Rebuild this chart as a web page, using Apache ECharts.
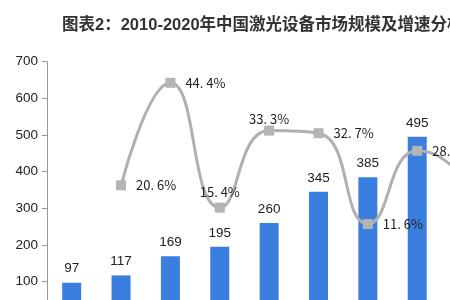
<!DOCTYPE html>
<html><head><meta charset="utf-8">
<script src="https://cdn.jsdelivr.net/npm/echarts@6/dist/echarts.min.js"></script>
<style>html,body{margin:0;padding:0;background:#fff}#c{width:450px;height:300px}</style>
</head><body><div id="c"></div>
<script>
var titleText = '图表2：2010-2020年中国激光设备市场规模及增速分析';
var years = ['2010','2011','2012','2013','2014','2015','2016','2017','2018','2019','2020'];
var marketSize = [97, 117, 169, 195, 260, 345, 385, 495, 605, 658, 692];
var growthRate = ['-', 20.6, 44.4, 15.4, 33.3, 32.7, 11.6, 28.6, 22.2, 8.8, 5.2];
var yTicks = [0, 100, 200, 300, 400, 500, 600, 700];

var labelPos = {3: ['top', 4], 4: ['top', 0]};
var lineData = growthRate.map(function (v, i) {
  var o = {value: v};
  if (labelPos[i]) o.label = {position: labelPos[i][0], distance: labelPos[i][1]};
  return o;
});

var chart = echarts.init(document.getElementById('c'), null, {renderer: 'canvas'});
chart.setOption({
  animation: false,
  backgroundColor: '#fff',
  title: {
    text: titleText, left: 57, top: 12,
    textStyle: {fontFamily: '"Liberation Sans", "Noto Sans CJK SC"', fontWeight: 'bold', fontSize: 16.5, color: '#333'}
  },
  grid: {left: 47, top: 61.7, width: 543, height: 256.6, containLabel: false, outerBoundsMode: 'none'},
  xAxis: {
    type: 'category', data: years,
    axisLine: {lineStyle: {color: '#999'}}, axisTick: {show: false},
    axisLabel: {show: false}
  },
  yAxis: [{
    type: 'value', min: yTicks[0], max: yTicks[yTicks.length - 1], interval: 100,
    axisLine: {show: true, lineStyle: {color: '#999'}},
    axisTick: {show: true, length: 5, lineStyle: {color: '#999'}},
    splitLine: {show: false},
    axisLabel: {fontFamily: 'Liberation Sans', fontSize: 13.5, color: '#222', margin: 9}
  }, {
    type: 'value', min: -10.3, max: 49.3, show: false, splitLine: {show: false}
  }],
  series: [{
    type: 'bar', data: marketSize, barWidth: 19,
    itemStyle: {color: '#3a7fdf'},
    label: {show: true, position: 'top', distance: 7, fontFamily: 'Liberation Sans', fontSize: 13.5, color: '#222'}
  }, {
    type: 'line', yAxisIndex: 1, data: lineData, smooth: true,
    symbol: 'rect', symbolSize: 10,
    lineStyle: {color: '#b0b0b0', width: 3},
    itemStyle: {color: '#b4b4b4'},
    label: {
      show: true, position: 'right', distance: 10,
      fontFamily: 'Noto Sans CJK SC', fontSize: 13, color: '#222',
      formatter: function (p) { return p.value.toFixed(1).replace('.', '. ') + '%'; }
    }
  }]
});
</script></body></html>
